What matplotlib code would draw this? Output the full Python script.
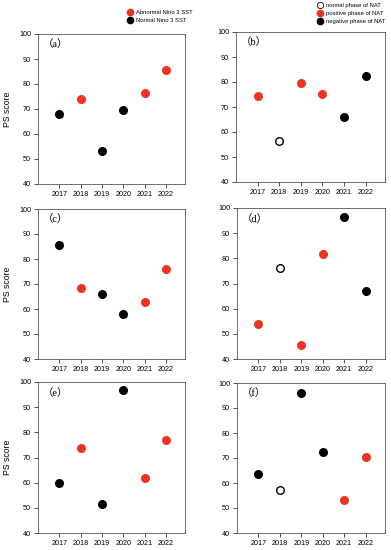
import matplotlib
matplotlib.use('Agg')
import matplotlib.pyplot as plt
from matplotlib.lines import Line2D

plt.rcParams['font.family'] = ['Liberation Sans', 'DejaVu Sans']

years = [2017, 2018, 2019, 2020, 2021, 2022]

# PS score per panel
ps_a = [68.1, 74.1, 53.2, 69.7, 76.5, 85.5]
ps_b = [74.3, 56.5, 79.7, 75.1, 65.9, 82.5]
ps_c = [85.6, 68.5, 65.9, 58.0, 62.8, 76.1]
ps_d = [54.1, 76.2, 45.4, 81.7, 96.4, 67.1]
ps_e = [60.0, 73.7, 51.5, 96.7, 61.7, 77.0]
ps_f = [63.8, 57.3, 96.0, 72.3, 53.4, 70.6]

# class of each point: 'pos' red, 'neg' black, 'neu' open circle
cls_a = ['neg', 'pos', 'neg', 'neg', 'pos', 'pos']
cls_b = ['pos', 'neu', 'pos', 'pos', 'neg', 'neg']
cls_c = ['neg', 'pos', 'neg', 'neg', 'pos', 'pos']
cls_d = ['pos', 'neu', 'pos', 'pos', 'neg', 'neg']
cls_e = ['neg', 'pos', 'neg', 'neg', 'pos', 'pos']
cls_f = ['neg', 'neu', 'neg', 'neg', 'pos', 'pos']

labels = ['（a）', '（b）', '（c）', '（d）', '（e）', '（f）']

RED = '#ee3322'
styles = {
    'pos': dict(facecolor=RED, edgecolor=RED),
    'neg': dict(facecolor='black', edgecolor='black'),
    'neu': dict(facecolor='white', edgecolor='black'),
}

W, H = 391, 550
fig = plt.figure(figsize=(W / 100, H / 100), dpi=100)

# axes boxes in pixels: left, top, right, bottom
boxes = [
    (38, 34, 185, 184), (236, 32, 385, 182),
    (38, 209, 185, 359), (237, 208, 385, 359),
    (38, 382, 185, 533), (237, 383, 385, 533),
]
data = [(ps_a, cls_a), (ps_b, cls_b), (ps_c, cls_c),
        (ps_d, cls_d), (ps_e, cls_e), (ps_f, cls_f)]

for i, ((l, t, r, b), (vals, cls)) in enumerate(zip(boxes, data)):
    ax = fig.add_axes([l / W, 1 - b / H, (r - l) / W, (b - t) / H])
    for k in ['pos', 'neg', 'neu']:
        xs = [y for y, c in zip(years, cls) if c == k]
        vs = [v for v, c in zip(vals, cls) if c == k]
        if xs:
            ax.scatter(xs, vs, s=30, linewidths=1.0, zorder=3, **styles[k])
    ax.set_xlim(2016.0, 2022.9)
    ax.set_ylim(40, 100)
    ax.set_xticks(years)
    ax.set_yticks(range(40, 101, 10))
    ax.tick_params(direction='out', length=3, width=0.6, labelsize=5.2,
                   pad=2, color='#333333')
    for sp in ax.spines.values():
        sp.set_linewidth(0.6)
        sp.set_color('#555555')
    ax.text(0.03, 0.93, labels[i], transform=ax.transAxes, fontsize=7.5,
            family=['Liberation Serif', 'Noto Sans CJK SC'], va='center')
    if i % 2 == 0:
        ax.set_ylabel('PS score', fontsize=6.2, labelpad=5)

# legends
h_a = [Line2D([], [], ls='none', marker='o', ms=4.5, mfc=RED, mec=RED),
       Line2D([], [], ls='none', marker='o', ms=4.5, mfc='black', mec='black')]
fig.legend(h_a, ['Abnormal Nino 3 SST', 'Normal Nino 3 SST'],
           loc='upper left', bbox_to_anchor=(124 / W, 1 - 7 / H),
           frameon=False, fontsize=4.2, handletextpad=0.5,
           labelspacing=0.55, borderpad=0, handlelength=1.0)

h_b = [Line2D([], [], ls='none', marker='o', ms=4.5, mfc='white', mec='black', mew=0.6),
       Line2D([], [], ls='none', marker='o', ms=4.5, mfc=RED, mec=RED),
       Line2D([], [], ls='none', marker='o', ms=4.5, mfc='black', mec='black')]
fig.legend(h_b, ['normal phase of NAT', 'positive phase of NAT', 'negative phase of NAT'],
           loc='upper left', bbox_to_anchor=(314 / W, 1 - 0.5 / H),
           frameon=False, fontsize=4.2, handletextpad=0.5,
           labelspacing=0.45, borderpad=0, handlelength=1.0)

fig.savefig('out.png', dpi=100)
